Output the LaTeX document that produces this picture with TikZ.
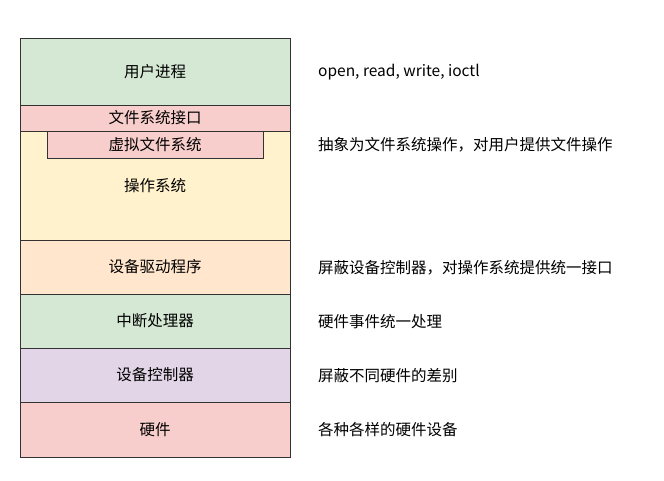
\documentclass[tikz,border=0pt]{standalone}
\usepackage{fontspec}
\setmainfont{Noto Sans CJK SC}
\definecolor{gfill}{HTML}{D5E8D4}
\definecolor{rfill}{HTML}{F8CECC}
\definecolor{yfill}{HTML}{FFF2CC}
\definecolor{ofill}{HTML}{FFE6CC}
\definecolor{pfill}{HTML}{E1D5E7}
\begin{document}
\begin{tikzpicture}[x=1pt,y=-1pt,
  layer/.style={draw=black!80,line width=0.8pt,font=\fontsize{15.5}{18}\selectfont},
  note/.style={anchor=west,font=\fontsize{15.5}{18}\selectfont,inner sep=0pt}]
\useasboundingbox (0,0) rectangle (664,480);
\fill[white] (0,0) rectangle (664,480);
\draw[layer,fill=gfill] (20,38) rectangle (290,105) node[midway,text=black] (u) {用户进程};
\draw[layer,fill=rfill] (20,105) rectangle (290,131) node[midway] (f) {文件系统接口};
\draw[layer,fill=yfill] (20,131) rectangle (290,240);
\node[font=\fontsize{15.5}{18}\selectfont] (os) at (155,186) {操作系统};
\draw[layer,fill=rfill] (47,131) rectangle (263,158) node[midway] (v) {虚拟文件系统};
\draw[layer,fill=ofill] (20,240) rectangle (290,294) node[midway] (d) {设备驱动程序};
\draw[layer,fill=gfill] (20,294) rectangle (290,348) node[midway] (i) {中断处理器};
\draw[layer,fill=pfill] (20,348) rectangle (290,402) node[midway] (c) {设备控制器};
\draw[layer,fill=rfill] (20,402) rectangle (290,457) node[midway] (h) {硬件};
\node[note] (n1) at (318,72) {open, read, write, ioctl};
\node[note] (n2) at (318,145) {抽象为文件系统操作，对用户提供文件操作};
\node[note] (n3) at (318,268) {屏蔽设备控制器，对操作系统提供统一接口};
\node[note] (n4) at (318,322) {硬件事件统一处理};
\node[note] (n5) at (318,376) {屏蔽不同硬件的差别};
\node[note] (n6) at (318,430) {各种各样的硬件设备};
\end{tikzpicture}
\end{document}
